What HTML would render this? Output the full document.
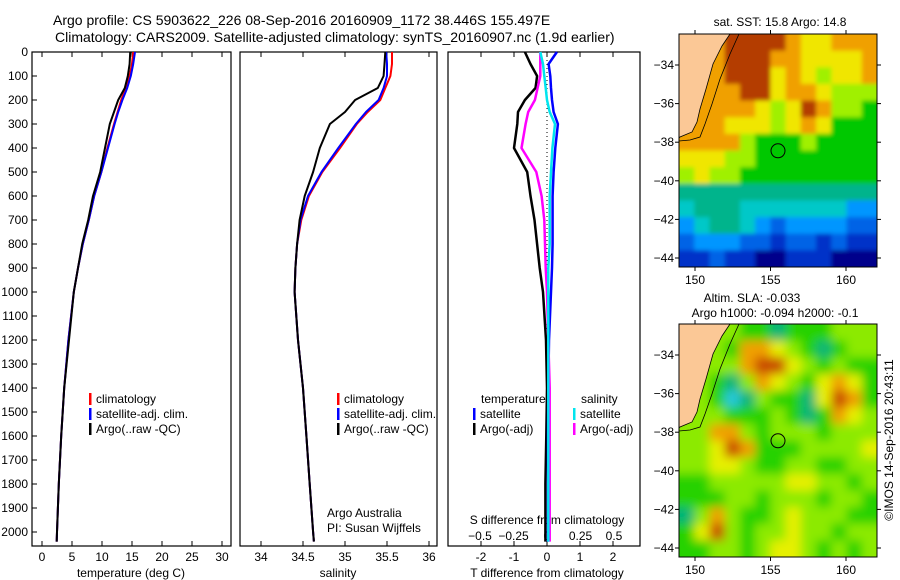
<!DOCTYPE html>
<html><head><meta charset="utf-8"><style>
html,body{margin:0;padding:0;background:#fff;}
svg{display:block;font-family:"Liberation Sans",sans-serif;}
</style></head><body>
<svg id="fig" width="900" height="580" viewBox="0 0 900 580">
<defs>
<filter id="blurS" x="-5%" y="-5%" width="110%" height="110%"><feGaussianBlur stdDeviation="2"/></filter>
<filter id="blurL" x="-5%" y="-5%" width="110%" height="110%"><feGaussianBlur stdDeviation="5"/></filter>
<clipPath id="clip1"><rect x="679" y="34" width="198" height="233"/></clipPath>
<clipPath id="clip2"><rect x="679" y="324" width="198" height="233"/></clipPath>
</defs>
<text x="53" y="25" font-size="14">Argo profile: CS 5903622_226 08-Sep-2016 20160909_1172 38.446S 155.497E</text>
<text x="55" y="42" font-size="14">Climatology: CARS2009. Satellite-adjusted climatology: synTS_20160907.nc (1.9d earlier)</text>
<g id="g"></g>
</svg>
<script>
const depths=[0,50,100,150,200,250,300,400,500,600,700,800,900,1000,1200,1400,1600,1800,2000,2040];
const tempArgo=[14.7,14.6,14.3,13.8,12.7,12.0,11.3,10.5,9.7,8.5,7.7,6.7,6.0,5.3,4.5,3.7,3.2,2.8,2.5,2.45];
const tempClim=[15.2,15.0,14.6,14.0,13.2,12.6,12.0,10.9,9.9,8.7,7.8,6.8,6.0,5.3,4.4,3.7,3.2,2.8,2.5,2.45];
const tempSat=[15.5,15.2,14.8,14.2,13.4,12.7,12.1,11.0,9.9,8.7,7.8,6.8,6.0,5.3,4.4,3.7,3.2,2.8,2.5,2.45];
const salArgo=[35.48,35.47,35.46,35.39,35.12,35.0,34.82,34.7,34.62,34.52,34.46,34.43,34.41,34.4,34.44,34.5,34.54,34.58,34.62,34.63];
const salClim=[35.56,35.56,35.54,35.48,35.42,35.27,35.14,34.94,34.73,34.57,34.48,34.43,34.41,34.4,34.44,34.5,34.54,34.58,34.62,34.63];
const salSat=[35.49,35.5,35.5,35.46,35.40,35.25,35.13,34.92,34.72,34.56,34.47,34.43,34.41,34.4,34.44,34.5,34.54,34.58,34.62,34.63];
const dTArgo=[-0.67,-0.5,-0.3,-0.35,-0.67,-0.88,-0.9,-1.0,-0.6,-0.5,-0.38,-0.3,-0.22,-0.12,-0.03,0,-0.02,-0.05,-0.05,-0.05];
const dTSat=[0.3,0.05,0.1,0.12,0.15,0.2,0.33,0.25,0.2,0.17,0.17,0.17,0.15,0.12,0.06,0.04,0.03,0.03,0.03,0.03];
const dSArgo=[-0.05,-0.05,-0.05,-0.07,-0.09,-0.14,-0.16,-0.19,-0.08,-0.04,-0.02,-0.015,-0.01,0,0.01,0.02,0.02,0.02,0.02,0.02];
const dSSat=[-0.05,-0.03,-0.02,-0.01,0,0.02,0.06,0.04,0.03,0.02,0.02,0.02,0.01,0.01,0.01,0.01,0.01,0.01,0.01,0.01];
const depthTicks=[0,100,200,300,400,500,600,700,800,900,1000,1100,1200,1300,1400,1500,1600,1700,1800,1900,2000];
const tempTicks=[0,5,10,15,20,25,30];
const salTicks=[34,34.5,35,35.5,36];
const salTickLabels=["34","34.5","35","35.5","36"];
const dTTicks=[-2,-1,0,1,2];
const dSTicks=[-0.5,-0.25,0,0.25,0.5];
const dSTickLabels=["\u22120.5","\u22120.25","0","0.25","0.5"];
const lonTicks=[150,155,160];
const latTicks=[-34,-36,-38,-40,-42,-44];
const sstGrid=[
[9,9,9,10,10,10,10,9,8,8,9,9,9],
[9,9,9,10,10,10,9,9,8,8,8,8,9],
[9,9,9,10,10,10,8,9,8,7,8,8,9],
[9,9,9,9,10,10,8,9,9,8,7,7,7],
[9,9,9,9,9,8,7,8,10,9,7,7,6],
[9,9,9,8,8,8,7,8,9,8,6,6,6],
[9,9,9,9,7,6,6,6,7,6,6,6,6],
[8,8,8,7,7,6,6,6,6,6,6,6,6],
[7,8,7,7,6,6,6,6,6,6,6,6,6],
[5,5,5,5,5,5,5,5,5,5,5,5,5],
[4,5,5,5,4,4,4,4,4,4,4,3,3],
[3,4,5,5,4,3,2,3,3,3,3,2,2],
[2,3,3,3,2,2,1,2,2,1,2,1,1],
[1,1,2,1,1,0,0,1,1,1,0,0,0]];
const slaGrid=[
[4,4,4,4,3,3,2,3,3,3,4,4,4],
[4,4,4,3,6,6,5,4,3,2,3,4,4],
[4,4,4,4,6,7,7,5,4,3,4,3,3],
[4,4,3,2,4,6,5,4,3,5,6,5,3],
[4,4,3,1,2,4,3,3,2,5,7,6,3],
[4,4,4,3,3,3,4,3,2,3,6,5,4],
[4,4,6,6,4,3,4,4,4,3,4,4,4],
[4,4,5,7,6,3,3,3,4,4,4,4,5],
[4,4,5,5,4,3,3,4,4,3,3,4,4],
[3,3,4,4,4,4,4,5,5,4,4,3,4],
[3,3,3,4,4,3,4,4,4,3,4,4,3],
[2,4,6,4,3,3,4,5,4,4,4,3,3],
[3,5,7,4,3,4,4,5,4,4,3,4,4],
[3,3,4,4,3,4,5,5,4,3,4,3,4]];
const argoLon=155.497, argoLat=-38.446;

const NS="http://www.w3.org/2000/svg";
const G=document.getElementById('g');
function mk(tag,attrs,parent){const e=document.createElementNS(NS,tag);for(const k in attrs)e.setAttribute(k,attrs[k]);(parent||G).appendChild(e);return e;}
function txt(x,y,s,size,anchor,fill){const t=mk('text',{x:x,y:y,'font-size':size||12,'text-anchor':anchor||'start',fill:fill||'#000'});t.textContent=s;return t;}
const yD=d=>52+0.24*d;
const xT=v=>42+6*v;
const xS=v=>261+84*(v-34);
const xDT=v=>547+33*v;
const xDS=v=>547+134*v;

function frame(x0,x1,name){const r=mk('rect',{x:x0,y:52,width:x1-x0,height:494,fill:'none',stroke:'#000','stroke-width':1.2});

}
frame(32,231,'temperature-panel');frame(240,437,'salinity-panel');frame(448,640,'difference-panel');

depthTicks.forEach(d=>{mk('line',{x1:32,x2:37,y1:yD(d),y2:yD(d),stroke:'#000'});
const t=txt(28,yD(d)+4,String(d),12,'end');

});

function xticks(xs,labels,fx,x0,x1,ylab){xs.forEach((v,i)=>{const x=fx(v);if(x<x0||x>x1)return;
mk('line',{x1:x,x2:x,y1:52,y2:57,stroke:'#000'});mk('line',{x1:x,x2:x,y1:546,y2:541,stroke:'#000'});
const t=txt(x,ylab,labels[i],12,'middle');

});}
xticks(tempTicks,tempTicks.map(String),xT,32,231,561);
xticks(salTicks,salTickLabels,xS,240,437,561);
xticks(dTTicks,dTTicks.map(String),xDT,448,640,561);
dSTicks.forEach((v,i)=>{const t=txt(xDS(v),540,dSTickLabels[i],12,'middle');

});

let t;
t=txt(131,577,'temperature (deg C)',12,'middle');
t=txt(338,577,'salinity',12,'middle');
t=txt(547,577,'T difference from climatology',12,'middle');
t=txt(547,524,'S difference from climatology',12,'middle');

mk('line',{x1:547,x2:547,y1:60,y2:330,stroke:'#000','stroke-dasharray':'1,3'});

function series(vals,fx,color,name,w){const pts=vals.map((v,i)=>fx(v).toFixed(1)+','+yD(depths[i]).toFixed(1)).join(' ');
const p=mk('polyline',{points:pts,fill:'none',stroke:color,'stroke-width':w||2,'stroke-linejoin':'round'});

}
series(tempClim,xT,'#ff0000','temp-climatology-line');
series(tempSat,xT,'#0000ff','temp-satellite-line');
series(tempArgo,xT,'#000','temp-argo-line');
series(salClim,xS,'#ff0000','sal-climatology-line');
series(salSat,xS,'#0000ff','sal-satellite-line');
series(salArgo,xS,'#000','sal-argo-line');
series(dTArgo,xDT,'#000','t-diff-argo-line',2.5);
series(dTSat,xDT,'#0000ff','t-diff-satellite-line',2.5);
series(dSArgo,xDS,'#ff00ff','s-diff-argo-line',2.5);
series(dSSat,xDS,'#00e5ee','s-diff-satellite-line',2.5);

function legend(x,y,items,name){items.forEach((it,i)=>{mk('rect',{x:x,y:y+i*15-10,width:2.5,height:12,fill:it[1]});
const tt=txt(x+7,y+i*15,it[0],12);

});}
legend(89,403,[['climatology','#ff0000'],['satellite-adj. clim.','#0000ff'],['Argo(..raw -QC)','#000']],'temp-legend-entry');
legend(337,403,[['climatology','#ff0000'],['satellite-adj. clim.','#0000ff'],['Argo(..raw -QC)','#000']],'sal-legend-entry');
t=txt(481,403,'temperature',12);
t=txt(581,403,'salinity',12);
legend(473,418,[['satellite','#0000ff'],['Argo(-adj)','#000']],'t-diff-legend-entry');
legend(573,418,[['satellite','#00e5ee'],['Argo(-adj)','#ff00ff']],'s-diff-legend-entry');
t=txt(327,517,'Argo Australia',12);
t=txt(327,532,'PI: Susan Wijffels',12);

const sstCols=['#00008b','#0032c8','#0064e6','#0096ff','#00c8c8','#00b48c','#00c800','#a0f000','#f0e600','#f0a000','#b43c00'];
const slaCols=['#0096ff','#28c8dc','#00b478','#28d200','#8cea00','#e6f000','#f0a000','#c84600'];
const mx0=679,mx1=877;
function mapPanel(y0,grid,cols,name,filt,clip){const y1=y0+233;
const lx=lon=>695+15.1*(lon-150);
const ly=lat=>(y0+31)+19.3*(-34-lat);
const nr=grid.length,nc=grid[0].length,cw=(mx1-mx0)/nc,ch=(y1-y0)/nr;
const outer=mk('g',{'clip-path':'url(#'+clip+')'});
const cg=mk('g',{filter:'url(#'+filt+')'},outer);
grid.forEach((row,r)=>row.forEach((v,c)=>{
const ext=(c===0?-12:0),exr=(c===nc-1?12:0),ety=(r===0?-12:0),eby=(r===nr-1?12:0);
const cell=mk('rect',{x:(mx0+c*cw+ext).toFixed(2),y:(y0+r*ch+ety).toFixed(2),width:(cw+0.6-ext+exr).toFixed(2),height:(ch+0.6-ety+eby).toFixed(2),fill:cols[v]},cg);

}));
const land=mk('polygon',{points:`${mx0},${y0} 730,${y0} 722,${y0+12} 713,${y0+30} 706,${y0+55} 700,${y0+75} 697,${y0+88} 692,${y0+98} 680,${y0+103} ${mx0},${y0+104}`,fill:'#fbc896',stroke:'#000','stroke-width':0.8});


mk('polyline',{points:`739,${y0} 730,${y0+20} 720,${y0+45} 712,${y0+70} 705,${y0+90} 700,${y0+103} 690,${y0+106} ${mx0},${y0+107}`,fill:'none',stroke:'#000','stroke-width':0.8});
const c=mk('circle',{cx:lx(argoLon),cy:ly(argoLat),r:7,fill:'none',stroke:'#000','stroke-width':1});


mk('rect',{x:mx0,y:y0,width:mx1-mx0,height:233,fill:'none',stroke:'#000'});
lonTicks.forEach(l=>{const x=lx(l);mk('line',{x1:x,x2:x,y1:y0,y2:y0-4,stroke:'#000'});mk('line',{x1:x,x2:x,y1:y1,y2:y1+4,stroke:'#000'});
const tt=txt(x,y1+17,String(l),12,'middle');

});
latTicks.forEach(l=>{const y=ly(l);mk('line',{x1:mx0,x2:mx0-4,y1:y,y2:y,stroke:'#000'});mk('line',{x1:mx1,x2:mx1+4,y1:y,y2:y,stroke:'#000'});
const tt=txt(674,y+4,String(l).replace('-','\u2212'),12,'end');

});}
mapPanel(34,sstGrid,sstCols,'sst-map','blurS','clip1');
mapPanel(324,slaGrid,slaCols,'sla-map','blurL','clip2');
t=txt(780,26,'sat. SST: 15.8 Argo: 14.8',12,'middle');
t=txt(752,302,'Altim. SLA: -0.033',12,'middle');
t=txt(775,317,'Argo h1000: -0.094 h2000: -0.1',12,'middle');
t=txt(0,0,'\u00a9IMOS 14-Sep-2016 20:43:11',12,'middle');t.setAttribute('transform','translate(893,440) rotate(-90)');

</script>
</body></html>
